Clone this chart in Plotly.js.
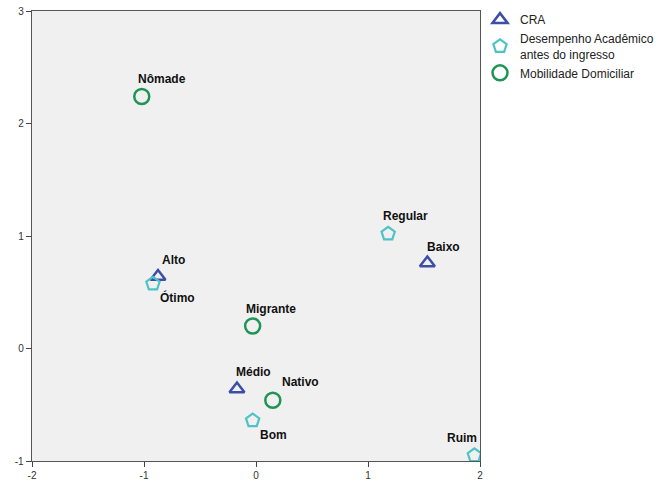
<!DOCTYPE html>
<html>
<head>
<meta charset="utf-8">
<script src="https://cdn.plot.ly/plotly-3.0.1.min.js"></script>
<style>html,body{margin:0;padding:0;background:#fff;}#chart{width:662px;height:481px;}</style>
</head>
<body>
<div id="chart"></div>
<script>
// CRA
const craLabels = ["Alto", "Médio", "Baixo"];
const craX = [-0.875, -0.17, 1.53];
const craY = [0.64, -0.36, 0.76];
// Desempenho Acadêmico antes do ingresso
const desLabels = ["Ótimo", "Bom", "Regular", "Ruim"];
const desX = [-0.92, -0.03, 1.18, 1.95];
const desY = [0.575, -0.64, 1.02, -0.95];
// Mobilidade Domiciliar
const mobLabels = ["Nômade", "Migrante", "Nativo"];
const mobX = [-1.02, -0.03, 0.15];
const mobY = [2.24, 0.2, -0.46];

const xTicks = [-2, -1, 0, 1, 2];
const yTicks = [-1, 0, 1, 2, 3];

// label offsets (pixels)
const labelShift = {
  "Alto": [15, 17], "Médio": [17, 17], "Baixo": [16, 16],
  "Ótimo": [25, -14], "Bom": [21, -14], "Regular": [17, 18], "Ruim": [-12, 17],
  "Nômade": [20, 18], "Migrante": [18, 17], "Nativo": [28, 18]
};

const traces = [
  {x: craX, y: craY, name: "CRA", mode: "markers", type: "scatter",
   marker: {symbol: "triangle-up-open", size: 13, color: "#3b4fa6", line: {width: 2.5, color: "#3b4fa6"}}},
  {x: desX, y: desY, name: "Desempenho Acadêmico<br>antes do ingresso", mode: "markers", type: "scatter",
   marker: {symbol: "pentagon-open", size: 14, color: "#4ec3c6", line: {width: 2.2, color: "#4ec3c6"}}},
  {x: mobX, y: mobY, name: "Mobilidade Domiciliar", mode: "markers", type: "scatter",
   marker: {symbol: "circle-open", size: 15, color: "#1f9455", line: {width: 2.5, color: "#1f9455"}}}
];

const annotations = [];
function addLabels(labels, xs, ys) {
  labels.forEach((t, i) => {
    annotations.push({x: xs[i], y: ys[i], xref: "x", yref: "y", text: "<b>" + t + "</b>",
      showarrow: false, xshift: labelShift[t][0], yshift: labelShift[t][1],
      font: {family: "Liberation Sans, Arial, sans-serif", size: 12, color: "#111"}});
  });
}
addLabels(craLabels, craX, craY);
addLabels(desLabels, desX, desY);
addLabels(mobLabels, mobX, mobY);

const axisCommon = {
  showgrid: false, zeroline: false, showline: true, linecolor: "#555", linewidth: 1.3,
  mirror: true, ticks: "outside", ticklen: 5, tickwidth: 1, tickcolor: "#444",
  tickfont: {family: "Liberation Sans, Arial, sans-serif", size: 10, color: "#333"}
};

const layout = {
  width: 662, height: 481,
  margin: {l: 32, r: 182, t: 11, b: 20, pad: 0, autoexpand: false},
  paper_bgcolor: "#ffffff", plot_bgcolor: "#f0f0f0",
  showlegend: true,
  legend: {x: 1.0, xanchor: "left", y: 1.013, yanchor: "top",
    bgcolor: "rgba(0,0,0,0)",
    font: {family: "Liberation Sans, Arial, sans-serif", size: 12, color: "#222"},
    itemwidth: 30, tracegroupgap: 0},
  xaxis: Object.assign({}, axisCommon, {range: [-2, 2], tickvals: xTicks, ticktext: xTicks.map(String)}),
  yaxis: Object.assign({}, axisCommon, {range: [-1, 3], tickvals: yTicks, ticktext: yTicks.map(String)}),
  annotations: annotations
};

Plotly.newPlot("chart", traces, layout, {displayModeBar: false, staticPlot: true});
</script>
</body>
</html>
